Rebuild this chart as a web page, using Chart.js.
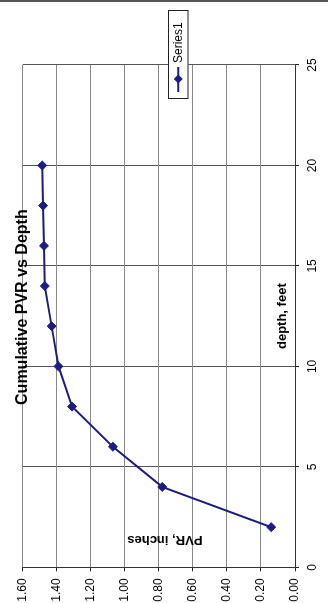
<!DOCTYPE html>
<html>
<head>
<meta charset="utf-8">
<script src="https://cdn.jsdelivr.net/npm/chart.js@4.4.1/dist/chart.umd.min.js"></script>
<style>
  html, body { margin: 0; padding: 0; background: #fff; width: 328px; height: 603px; overflow: hidden; }
  /* the chart is laid out landscape and turned a quarter turn counter-clockwise */
  #frame { position: absolute; left: 0; top: 0; width: 603px; height: 328px;
           transform-origin: 0 0; transform: translate(0, 603px) rotate(-90deg); }
  #edge { position: absolute; left: 0; top: 0; width: 328px; height: 2px; background: #555; }
</style>
</head>
<body>
<div id="frame"><canvas id="c" width="603" height="328"></canvas></div>
<div id="edge"></div>
<script>
// Cumulative PVR (inches) against depth (feet)
const depthFeet = [2, 4, 6, 8, 10, 12, 14, 16, 18, 20];
const pvrInches = [0.14, 0.78, 1.07, 1.31, 1.39, 1.43, 1.47, 1.475, 1.48, 1.485];
const depthTicks = [0, 5, 10, 15, 20, 25];
const pvrTicks = [0, 0.2, 0.4, 0.6, 0.8, 1.0, 1.2, 1.4, 1.6];
const seriesName = 'Series1';
const chartTitle = 'Cumulative PVR vs Depth';
const depthTitle = 'depth, feet';
const pvrTitle = 'PVR, inches';

const FONT = '"Liberation Sans", Arial, sans-serif';
const NAVY = '#1c1c84';

// titles and legend box drawn inside the plot area, Excel style
const overlay = {
  id: 'overlay',
  afterDraw(chart) {
    const { ctx, chartArea: a } = chart;
    const cx = (a.left + a.right) / 2;
    ctx.save();
    ctx.fillStyle = '#000';

    // chart title
    ctx.font = 'bold 16px ' + FONT;
    ctx.textAlign = 'center';
    ctx.textBaseline = 'alphabetic';
    ctx.fillText(chartTitle, cx + 9, a.top + 4.5);

    // depth axis title, just above the axis line
    ctx.font = 'bold 13px ' + FONT;
    ctx.textBaseline = 'alphabetic';
    ctx.fillText(depthTitle, cx, a.bottom - 9.5);

    // PVR axis title, turned, next to the value axis
    ctx.save();
    ctx.translate(a.left + 28, (a.top + a.bottom) / 2 + 6);
    ctx.rotate(-Math.PI / 2);
    ctx.textBaseline = 'middle';
    ctx.fillText(pvrTitle, 0, 0);
    ctx.restore();

    // legend
    const lx = a.right - 34, ly = 168, lw = 89, lh = 20.5;
    ctx.fillStyle = '#fff';
    ctx.fillRect(lx, ly, lw, lh);
    ctx.strokeStyle = '#222';
    ctx.lineWidth = 1;
    ctx.strokeRect(lx + 0.5, ly + 0.5, lw - 1, lh - 1);
    const my = ly + lh / 2;
    ctx.strokeStyle = NAVY;
    ctx.lineWidth = 2;
    ctx.beginPath();
    ctx.moveTo(lx + 7, my);
    ctx.lineTo(lx + 32, my);
    ctx.stroke();
    ctx.fillStyle = NAVY;
    ctx.beginPath();
    ctx.moveTo(lx + 20, my - 4.5);
    ctx.lineTo(lx + 24.5, my);
    ctx.lineTo(lx + 20, my + 4.5);
    ctx.lineTo(lx + 15.5, my);
    ctx.closePath();
    ctx.fill();
    ctx.fillStyle = '#000';
    ctx.font = '12px ' + FONT;
    ctx.textAlign = 'left';
    ctx.textBaseline = 'middle';
    ctx.fillText(chart.data.datasets[0].label, lx + 36, my + 0.5);
    ctx.restore();
  }
};

new Chart(document.getElementById('c'), {
  type: 'scatter',
  data: {
    datasets: [{
      label: seriesName,
      data: depthFeet.map((d, i) => ({ x: d, y: pvrInches[i] })),
      showLine: true,
      borderColor: NAVY,
      backgroundColor: NAVY,
      borderWidth: 2,
      pointStyle: 'rectRot',
      pointRadius: 4.5,
      pointBorderWidth: 1,
      pointBackgroundColor: NAVY,
      pointBorderColor: NAVY,
      tension: 0
    }]
  },
  options: {
    responsive: false,
    animation: false,
    devicePixelRatio: 1,
    layout: { padding: { left: 0, top: 22.7, right: 65, bottom: 0 } },
    plugins: { legend: { display: false }, tooltip: { enabled: false }, title: { display: false } },
    scales: {
      x: {
        type: 'linear', position: 'bottom', min: 0, max: 25,
        afterBuildTicks: s => { s.ticks = depthTicks.map(v => ({ value: v })); },
        afterFit: s => { s.height = 33; },
        ticks: { color: '#000', font: { family: FONT, size: 12 }, padding: 6, maxRotation: 0,
                 callback: v => String(v) },
        grid: { color: '#555', tickColor: '#222', tickLength: 4, lineWidth: 1 },
        border: { color: '#333', width: 1 }
      },
      y: {
        type: 'linear', position: 'left', min: 0, max: 1.6,
        afterBuildTicks: s => { s.ticks = pvrTicks.map(v => ({ value: v })); },
        afterFit: s => { s.width = 35.7; },
        ticks: { color: '#000', font: { family: FONT, size: 12 }, padding: 7,
                 callback: v => Number(v).toFixed(2) },
        grid: { color: '#8a8a8a', tickColor: '#222', tickLength: 4, lineWidth: 1 },
        border: { color: '#333', width: 1 }
      }
    }
  },
  plugins: [overlay]
});
</script>
</body>
</html>
